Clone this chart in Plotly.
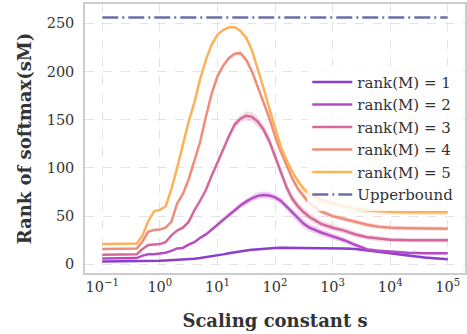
import plotly.graph_objects as go

# scaling constants (log10 s) at which the rank was measured
log_s = [-1, -0.5, -0.4, -0.3, -0.2, -0.1, 0, 0.1, 0.2, 0.3, 0.4, 0.5, 0.6, 0.7, 0.8, 0.9,
         1.0, 1.1, 1.2, 1.3, 1.4, 1.5, 1.6, 1.7, 1.8, 1.9, 2.0, 2.1, 2.2, 2.3, 2.4, 2.5, 2.6,
         2.8, 3.0, 3.2, 3.4, 3.6, 3.8, 4.0, 4.3, 4.6, 5.0]

# mean rank of softmax(sM) for each rank(M)
rank1 = [3, 3, 3, 3, 3.2, 3.4, 3.6, 4, 4.3, 4.5, 4.7, 5.2, 5.8, 6.5, 7.3, 8.2, 9.2, 10.3, 11.5,
         12.6, 13.6, 14.3, 15, 15.6, 16.2, 16.6, 17, 17.2, 17.2, 17.1, 17, 17, 16.9, 16.8, 16.7,
         16.5, 16, 14.5, 13, 11.5, 8.6, 7, 5.2]
rank2 = [6, 6, 6.5, 9, 10.5, 10.5, 11, 12, 14, 16.5, 17, 20.5, 23, 27.5, 31, 36, 41, 47, 52, 56,
         61, 65, 68.5, 71, 72, 71.5, 69.5, 66, 60, 53, 47, 42, 38, 33, 29, 25, 20, 15.5, 14, 13,
         12, 11.5, 11.5]
rank3 = [10, 10, 10.5, 16, 20, 20.5, 21, 23, 30, 35, 38, 44, 56, 66, 77, 92, 105, 119, 133, 145,
         151, 154, 153, 148, 140, 128, 112, 95, 80, 68, 60, 54, 49, 42, 38, 35, 31, 28, 26.5,
         25.5, 25, 25, 25]
rank4 = [16, 16, 16.5, 24, 34, 35.5, 36, 38, 44, 63, 73, 88, 108, 127, 153, 177, 195, 206, 214,
         218.5, 219, 212, 200, 185, 168, 152, 133, 117, 102, 89, 78, 70, 63, 55, 50, 47, 44, 41,
         39, 38, 37.5, 37.5, 37]
rank5 = [21, 21, 21.5, 30, 45, 55, 56.5, 60, 78, 100, 125, 148, 168, 192, 212, 228, 238, 243,
         246, 246, 242, 235, 222, 203, 183, 162, 141, 122, 108, 96, 86, 78, 73, 67, 63, 60, 57.5,
         56, 55, 54.5, 54, 54, 54]

# spread (one std) around each mean
rank1_sd = [0.3] * 9 + [0.4, 0.4, 0.4, 0.5, 0.5, 0.5, 0.6, 0.6, 0.7, 0.7, 0.8, 0.8, 0.8, 0.9,
                        0.9] + [1.0] * 19
rank2_sd = [0.4] * 10 + [0.5, 0.6, 0.8, 1.0, 1.2, 1.5, 1.8, 2.0, 2.2, 2.5, 2.8, 3.0, 3.2, 3.4,
                         3.5, 3.5, 3.5, 3.6, 3.8, 4.0, 4.2, 4.2, 4.0, 3.6, 3.2, 2.8, 2.4, 2.0,
                         1.6, 1.4, 1.2, 1.2, 1.2]
rank3_sd = [0.5] * 12 + [0.8, 1.0, 1.3, 1.6, 2.0, 2.5, 3.0, 3.5, 4.0, 4.5, 5.0, 5.0, 5.0, 4.8,
                         4.6, 4.5, 4.5, 4.5, 4.5, 4.3, 4.0, 3.6, 3.2, 3.0, 2.8, 2.6, 2.5, 2.4,
                         2.4, 2.4, 2.4]
rank4_sd = [0.6] * 16 + [1.0, 1.2, 1.4, 1.6, 1.8, 2.0, 2.2, 2.4, 2.6, 2.8, 3.0, 3.0, 3.0, 3.0,
                         3.0, 3.0, 3.0, 2.8, 2.6, 2.5, 2.4, 2.3, 2.2, 2.2, 2.2, 2.2, 2.2]
rank5_sd = [0.8] * 16 + [1.0, 1.2, 1.4, 1.5, 1.6, 1.8, 2.0, 2.4, 2.8, 3.2, 3.5, 3.5, 3.5, 3.5,
                         3.4, 3.3, 3.2] + [3.0] * 10

labels = ["rank(M) = 1", "rank(M) = 2", "rank(M) = 3", "rank(M) = 4", "rank(M) = 5"]
colors = ["#8a3fcc", "#b64cc4", "#d5689a", "#ef8c7b", "#fdb25a"]
fills = ["rgba(138,63,204,0.25)", "rgba(182,76,196,0.25)", "rgba(213,104,154,0.25)",
         "rgba(239,140,123,0.25)", "rgba(253,178,90,0.25)"]

bound_s = [0.1, 1e5]
bound_rank = [256, 256]

tick_vals = [0.1, 1, 10, 100, 1000, 10000, 100000]
tick_text = ["10<sup>−1</sup>", "10<sup>0</sup>", "10<sup>1</sup>", "10<sup>2</sup>",
             "10<sup>3</sup>", "10<sup>4</sup>", "10<sup>5</sup>"]

s = [10 ** e for e in log_s]
means = [rank1, rank2, rank3, rank4, rank5]
sds = [rank1_sd, rank2_sd, rank3_sd, rank4_sd, rank5_sd]

fig = go.Figure()
for lab, col, fc, m, sd in zip(labels, colors, fills, means, sds):
    upper = [a + b for a, b in zip(m, sd)]
    lower = [a - b for a, b in zip(m, sd)]
    fig.add_trace(go.Scatter(x=s + s[::-1], y=upper + lower[::-1], fill="toself",
                             fillcolor=fc, line=dict(width=0), hoverinfo="skip",
                             showlegend=False, mode="lines"))
    fig.add_trace(go.Scatter(x=s, y=m, mode="lines", name=lab,
                             line=dict(color=col, width=2.5)))

fig.add_trace(go.Scatter(x=bound_s, y=bound_rank, mode="lines", name="Upperbound",
                         line=dict(color="#6e6ea8", width=2.5, dash="16px,4px,2px,4px")))

font_family = "DejaVu Serif"
fig.update_layout(
    width=467, height=334,
    margin=dict(l=85, r=0, t=4, b=61),
    paper_bgcolor="white", plot_bgcolor="white",
    font=dict(family=font_family, size=14.5, color="#333333"),
    showlegend=True,
    legend=dict(x=0.585, y=0.77, xanchor="left", yanchor="top", itemwidth=40,
                bgcolor="rgba(255,255,255,0.8)", borderwidth=0,
                font=dict(family=font_family, size=15, color="#333333")),
    xaxis=dict(type="log", range=[-1.3, 5.3], tickvals=tick_vals, ticktext=tick_text,
               showgrid=True, gridcolor="#e3e3e3", griddash="dash", gridwidth=1,
               showline=True, mirror=True, linecolor="#cccccc", linewidth=1.5,
               ticks="", zeroline=False, ticklabelstandoff=0,
               title=dict(text="<b>Scaling constant s</b>", standoff=20,
                          font=dict(family=font_family, size=18, color="#333333"))),
    yaxis=dict(range=[-9, 270], tickvals=[0, 50, 100, 150, 200, 250],
               showgrid=True, gridcolor="#e3e3e3", griddash="dash", gridwidth=1,
               showline=True, mirror=True, linecolor="#cccccc", linewidth=1.5,
               ticks="", zeroline=False, ticklabelstandoff=6,
               title=dict(text="<b>Rank of softmax(sM)</b>", standoff=10,
                          font=dict(family=font_family, size=18, color="#333333"))),
)

fig.write_html("out.html")
